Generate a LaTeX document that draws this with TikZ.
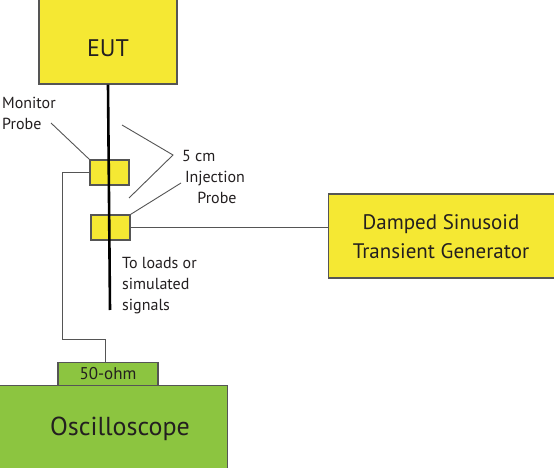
\documentclass[tikz,border=0pt]{standalone}
\usepackage{fontspec}
\setmainfont{PT Sans}
\definecolor{boxyellow}{HTML}{F5E833}
\definecolor{boxgreen}{HTML}{8CC540}
\definecolor{edge}{HTML}{555555}
\definecolor{ink}{HTML}{231F20}
\begin{document}
\begin{tikzpicture}[x=1pt,y=-1pt,
  ybox/.style={draw=edge,line width=1.3pt,fill=boxyellow,text=ink,inner sep=0pt,align=center},
  gbox/.style={draw=edge,line width=1.3pt,fill=boxgreen,text=ink,inner sep=0pt,align=center},
  probe/.style={draw=edge,line width=1.2pt,fill=boxyellow,minimum width=39pt,minimum height=25pt,inner sep=0pt},
  thin/.style={draw=edge,line width=0.9pt},
  cable/.style={draw=black,line width=2.6pt},
  txt/.style={text=ink,inner sep=0pt,align=center},
  lbl/.style={text=ink,inner sep=0pt,align=left,font=\fontsize{16}{21}\selectfont}]
\useasboundingbox (0,0) rectangle (554,468);
\fill[white] (0,0) rectangle (554,468);
% boxes
\node[ybox,minimum width=138pt,minimum height=86pt] (eut) at (108,41) {};
\node[txt,font=\fontsize{24}{28}\selectfont] (eutt) at (108,48) {EUT};
\node[ybox,minimum width=240pt,minimum height=84pt,anchor=west] (gen) at (328,236) {};
\node[txt,font=\fontsize{21}{29}\selectfont] (gent) at (441,237) {Damped Sinusoid\\Transient Generator};
\node[gbox,minimum width=100pt,minimum height=23pt,font=\fontsize{17}{20}\selectfont] (tab) at (108,374) {50-ohm};
\node[gbox,minimum width=229pt,minimum height=90pt,anchor=north west] (osc) at (-2,385) {};
\node[txt,font=\fontsize{26}{30}\selectfont] (osct) at (120,429) {Oscilloscope};
% probes
\node[probe] (mon) at (109.5,172.5) {};
\node[probe] (inj) at (110.5,227.5) {};
% cable
\coordinate (cend) at (110,310);
\draw[cable] (eut.south) -- (cend);
% generator link
\draw[thin] (inj.east) -- (gen.west |- inj.east);
% monitor link to scope
\coordinate (m1) at (62,339);
\coordinate (m2) at (105,339);
\draw[thin] (mon.west) -| (m1) -- (m2) -- (m2 |- tab.north);
% labels
\node[lbl,anchor=north west] (monl) at (2,97) {Monitor\\Probe};
\coordinate (monlp) at (51,123);
\draw[thin] (monlp) -- (mon.north west);
\node[lbl,anchor=west] (cm) at (182,156) {5 cm};
\coordinate (cmv) at (173,155);
\coordinate (cma) at (122,125);
\coordinate (cmb) at (129,198);
\draw[thin] (cma) -- (cmv) -- (cmb);
\node[lbl,anchor=north,align=center] (injl) at (215,171) {Injection\\\hspace*{4pt}Probe};
\coordinate (injp) at (181,183);
\draw[thin] (inj.north east) -- (injp);
\node[lbl,anchor=north west] (loads) at (122,257) {To loads or\\simulated\\signals};
\end{tikzpicture}
\end{document}
